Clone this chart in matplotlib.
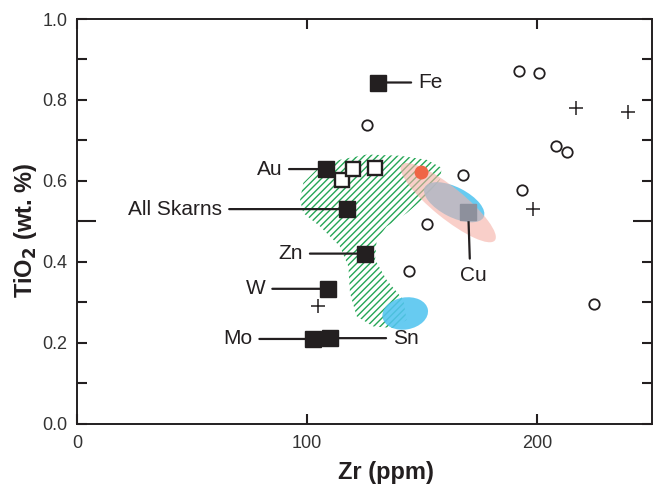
import matplotlib
matplotlib.use('Agg')
import matplotlib.pyplot as plt
from matplotlib import transforms
from matplotlib.patches import Polygon, Ellipse
import numpy as np

plt.rcParams['font.family'] = ['Liberation Sans', 'DejaVu Sans']
plt.rcParams['hatch.linewidth'] = 1.0

# average composition of skarn-related plutons (filled squares)
skarn_types = ['Fe', 'Au', 'All Skarns', 'Zn', 'W', 'Mo', 'Sn', 'Cu']
skarn_zr = [130.9, 108.3, 117.5, 125.2, 109.3, 102.8, 110.0, 170.1]
skarn_tio2 = [0.843, 0.629, 0.530, 0.420, 0.333, 0.209, 0.211, 0.524]

# individual Au plutons (open squares)
au_zr = [115.3, 120.1, 129.7]
au_tio2 = [0.603, 0.628, 0.632]

# open circles
circle_zr = [125.9, 167.7, 152.0, 144.3, 192.2, 200.9, 208.1, 212.9, 193.3, 224.8]
circle_tio2 = [0.739, 0.615, 0.494, 0.378, 0.872, 0.867, 0.685, 0.671, 0.578, 0.296]

# crosses
cross_zr = [216.8, 239.7, 198.4, 104.9]
cross_tio2 = [0.779, 0.771, 0.531, 0.291]

# outline of the hatched field
field_zr = [97.0, 98.4, 104.2, 114.3, 126.0, 140.4, 152.0, 158.6, 157.8, 152.0,
            143.3, 134.6, 130.3, 129.6, 134.6, 141.9, 143.3, 137.5, 128.8, 121.6,
            118.7, 118.0, 114.3, 105.7, 98.4]
field_tio2 = [0.553, 0.595, 0.628, 0.652, 0.665, 0.662, 0.652, 0.632, 0.603, 0.562,
              0.520, 0.487, 0.454, 0.405, 0.355, 0.306, 0.256, 0.236, 0.240, 0.265,
              0.322, 0.388, 0.438, 0.487, 0.520]

# shaded fields: centre (Zr, TiO2)
blue_zr = [164.0, 142.7]
blue_tio2 = [0.547, 0.272]
pink_zr = [161.4]
pink_tio2 = [0.546]
red_zr = [149.4]
red_tio2 = [0.621]

# field shapes in pixels (width, height, angle)
blue_shape = [(66, 30, -27), (46, 32, 10)]
pink_shape = [(120, 31, -39)]

# label offsets in pixels from the square, alignment
label_style = {
    'Fe': ((40, 0), 'left', (0, 0.5)),
    'Au': ((-44, 0), 'right', (1, 0.5)),
    'All Skarns': ((-125, 0), 'right', (1, 0.5)),
    'Zn': ((-62, 0), 'right', (1, 0.5)),
    'W': ((-63, 0), 'right', (1, 0.5)),
    'Mo': ((-61, 0), 'right', (1, 0.5)),
    'Sn': ((63, 0), 'left', (0, 0.5)),
    'Cu': ((5, -54), 'center', (0.38, 1)),
}

ink = '#231f20'

fig = plt.figure(figsize=(6.53, 4.88), dpi=100)
ax = fig.add_axes([77 / 653, (488 - 423.5) / 488, 575 / 653, 404.5 / 488])
ax.set_xlim(0, 250)
ax.set_ylim(0, 1.0)


def px_ellipse(x, y, w, h, angle, **kw):
    trans = fig.dpi_scale_trans + transforms.ScaledTranslation(x, y, ax.transData)
    e = Ellipse((0, 0), w / fig.dpi, h / fig.dpi, angle=angle, transform=trans, **kw)
    ax.add_patch(e)


field = Polygon(np.column_stack([field_zr, field_tio2]), closed=True,
                facecolor='none', edgecolor='#25a656', linewidth=0, hatch='/////', zorder=1)
ax.add_patch(field)

for (x, y), (w, h, a) in zip(zip(blue_zr, blue_tio2), blue_shape):
    px_ellipse(x, y, w, h, a, facecolor='#52c4f0', edgecolor='none', alpha=0.88, zorder=2)
for (x, y), (w, h, a) in zip(zip(pink_zr, pink_tio2), pink_shape):
    px_ellipse(x, y, w, h, a, facecolor='#f5b0a6', edgecolor='none', alpha=0.6, zorder=3)
ax.plot(red_zr, red_tio2, 'o', ms=10, color='#ef6546', mec='none', zorder=4)

ax.plot(circle_zr, circle_tio2, 'o', ms=7.5, mfc='white', mec=ink, mew=1.3, ls='none', zorder=5)
ax.plot(cross_zr, cross_tio2, '+', ms=10, mec=ink, mew=1.1, ls='none', zorder=5)

for name, x, y in zip(skarn_types, skarn_zr, skarn_tio2):
    (dx, dy), ha, rel = label_style[name]
    va = 'top' if dy < 0 else 'center'
    ax.annotate(name, (x, y), xytext=(dx * 0.72, dy * 0.72), textcoords='offset points',
                ha=ha, va=va, fontsize=15, color=ink, zorder=6,
                arrowprops=dict(arrowstyle='-', lw=1.6, color=ink, shrinkA=3, shrinkB=0,
                                relpos=rel))

ax.plot(skarn_zr[:-1], skarn_tio2[:-1], 's', ms=12, color=ink, ls='none', zorder=7)
ax.plot(skarn_zr[-1:], skarn_tio2[-1:], 's', ms=12, color='#8d909c', ls='none', zorder=7)
ax.plot(au_zr, au_tio2, 's', ms=9.5, mfc='white', mec=ink, mew=1.7, ls='none', zorder=7)

# axes styling
for s in ax.spines.values():
    s.set_linewidth(1.4)
    s.set_color(ink)

ax.set_xticks([0, 100, 200])
ax.set_xticklabels(['0', '100', '200'])
ax.set_yticks(np.arange(0, 1.01, 0.1))
ax.set_yticklabels(['%.1f' % v if i % 2 == 0 else '' for i, v in enumerate(np.arange(0, 1.01, 0.1))])
ax.tick_params(axis='both', direction='in', length=7.5, width=1.5, color=ink,
               labelsize=13, labelcolor='#333333', top=True, right=True)
ax.tick_params(axis='x', pad=8)
ax.tick_params(axis='y', pad=7)
t5 = ax.yaxis.get_major_ticks()[5]
t5.tick1line.set_markersize(14)
t5.tick2line.set_markersize(14)

ax.set_xlabel('Zr (ppm)', fontsize=17, fontweight='bold', color=ink)
ax.set_ylabel('TiO$_\\mathbf{2}$ (wt. %)', fontsize=17, fontweight='bold', color=ink)
ax.xaxis.set_label_coords(0.538, -0.093)
ax.yaxis.set_label_coords(-0.066, 0.478)

fig.savefig('out.png', dpi=100)
